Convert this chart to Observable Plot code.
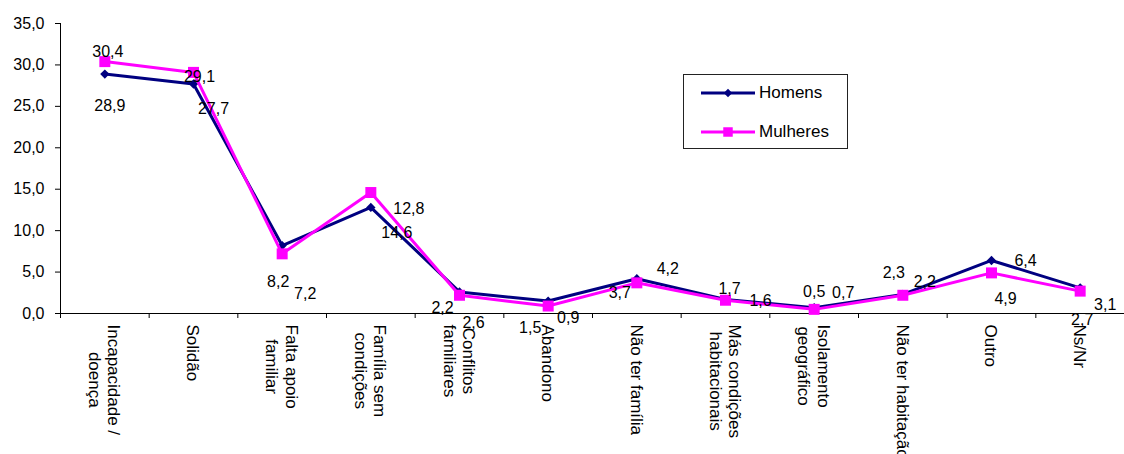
<!DOCTYPE html>
<html>
<head>
<meta charset="utf-8">
<script src="https://cdn.jsdelivr.net/npm/d3@7"></script>
<script src="https://cdn.jsdelivr.net/npm/@observablehq/plot@0.6"></script>
<style>
  html, body { margin: 0; padding: 0; background: #fff; }
  #wrap { position: relative; width: 1124px; height: 454px; overflow: hidden; font-family: "Liberation Sans", Arial, sans-serif; }
  #legend { position: absolute; left: 683px; top: 74px; width: 165px; height: 75px; border: 1px solid #222; background: #fff; box-sizing: border-box; }
  #legend .row { position: absolute; left: 0; height: 20px; display: flex; align-items: center; }
  #legend .row span { font-size: 17px; color: #000; margin-left: 4px; }
</style>
</head>
<body>
<div id="wrap"></div>
<script>
const categories = [
  "Incapacidade /\ndoença", "Solidão", "Falta apoio\nfamiliar", "Família sem\ncondições",
  "Conflitos\nfamiliares", "Abandono", "Não ter família", "Más condições\nhabitacionais",
  "Isolamento\ngeográfico", "Não ter habitação", "Outro", "Ns/Nr"
];
const seriesNames = ["Homens", "Mulheres"];
const homens   = [28.9, 27.7, 8.2, 12.8, 2.6, 1.5, 4.2, 1.7, 0.7, 2.3, 6.4, 3.1];
const mulheres = [30.4, 29.1, 7.2, 14.6, 2.2, 0.9, 3.7, 1.6, 0.5, 2.2, 4.9, 2.7];
const yTicks = [0, 5, 10, 15, 20, 25, 30, 35];

// label nudges (pixels) to mimic the original label placement
const labelDxH = [5, 20, -4, 38, 14, -18, 31, 4, 29, -9, 34, 25];
const labelDyH = [32, 25, 36, 1, 31, 27, -10, -11, -15, -22, 0, 17];
const labelDxM = [3, 6, 23, 26, -17, 20, -17, 35, 0, 22, 14, 2];
const labelDyM = [-10, 4, 40, 40, 13, 12, 10, 1, -17, -13, 26, 29];

const colors = {Homens: "#000080", Mulheres: "#FF00FF"};
const fmt = v => v.toFixed(1).replace(".", ",");
const catFont = 17;

// measure text widths so that rotated multi-line labels are centred like the original
const ctx = document.createElement("canvas").getContext("2d");
ctx.font = `${catFont}px "Liberation Sans", Arial, sans-serif`;
const maxLineWidth = s => d3.max(s.split("\n"), l => ctx.measureText(l).width);

const rows = [];
categories.forEach((c, i) => {
  rows.push({i, series: "Homens", value: homens[i]});
  rows.push({i, series: "Mulheres", value: mulheres[i]});
});
const H = rows.filter(d => d.series === "Homens");
const M = rows.filter(d => d.series === "Mulheres");

const labelMarks = [];
H.forEach((d, k) => labelMarks.push(Plot.text([d], {x: d => d.i + 0.5, y: "value", text: d => fmt(d.value), dx: labelDxH[k], dy: labelDyH[k], fill: "#000", fontSize: 16})));
M.forEach((d, k) => labelMarks.push(Plot.text([d], {x: d => d.i + 0.5, y: "value", text: d => fmt(d.value), dx: labelDxM[k], dy: labelDyM[k], fill: "#000", fontSize: 16})));

const catMarks = categories.map((c, i) => Plot.text([i], {
  x: d => d + 0.5, y: () => 0, text: d => categories[d],
  rotate: 90, textAnchor: "middle", lineAnchor: "middle", lineHeight: 1.13,
  dy: 11 + maxLineWidth(c) / 2, fontSize: catFont, fill: "#000"
}));

const chart = Plot.plot({
  width: 1124,
  height: 454,
  marginLeft: 60,
  marginRight: 0,
  marginTop: 23,
  marginBottom: 141,
  style: {fontFamily: "'Liberation Sans', Arial, sans-serif", fontSize: "16px", background: "white", color: "#000", overflow: "visible"},
  x: {type: "linear", domain: [0, categories.length]},
  y: {domain: [0, 35]},
  marks: [
    Plot.axisY(yTicks, {tickSize: 5, tickPadding: 11, tickFormat: fmt, fontSize: 16, label: null, stroke: "#000"}),
    Plot.axisX(d3.range(categories.length + 1), {tickSize: 5, tickFormat: () => "", label: null, stroke: "#000"}),
    ...catMarks,
    Plot.ruleX([0], {y1: 0, y2: 35, stroke: "#000"}),
    Plot.ruleY([0], {stroke: "#000"}),
    Plot.line(H, {x: d => d.i + 0.5, y: "value", stroke: colors.Homens, strokeWidth: 3}),
    Plot.dot(H, {x: d => d.i + 0.5, y: "value", symbol: "diamond2", r: 4.2, fill: colors.Homens, stroke: "none"}),
    Plot.line(M, {x: d => d.i + 0.5, y: "value", stroke: colors.Mulheres, strokeWidth: 3}),
    Plot.dot(M, {x: d => d.i + 0.5, y: "value", symbol: "square", r: 6.2, fill: colors.Mulheres, stroke: "none"}),
    ...labelMarks
  ]
});
const wrap = document.getElementById("wrap");
wrap.appendChild(chart);

// legend
const legend = document.createElement("div");
legend.id = "legend";
const ns = "http://www.w3.org/2000/svg";
seriesNames.forEach((name, k) => {
  const row = document.createElement("div");
  row.className = "row";
  row.style.left = "17px";
  row.style.top = (k === 0 ? 8 : 47) + "px";
  const svg = document.createElementNS(ns, "svg");
  svg.setAttribute("width", 54); svg.setAttribute("height", 20);
  const line = document.createElementNS(ns, "line");
  line.setAttribute("x1", 0); line.setAttribute("x2", 54); line.setAttribute("y1", 10); line.setAttribute("y2", 10);
  line.setAttribute("stroke", colors[name]); line.setAttribute("stroke-width", 3);
  svg.appendChild(line);
  const sym = document.createElementNS(ns, "path");
  sym.setAttribute("transform", "translate(27,10)");
  sym.setAttribute("d", d3.symbol(name === "Homens" ? d3.symbolDiamond2 : d3.symbolSquare, name === "Homens" ? 45 : 90)());
  sym.setAttribute("fill", colors[name]);
  svg.appendChild(sym);
  row.appendChild(svg);
  const t = document.createElement("span");
  t.textContent = name;
  row.appendChild(t);
  legend.appendChild(row);
});
wrap.appendChild(legend);
</script>
</body>
</html>
